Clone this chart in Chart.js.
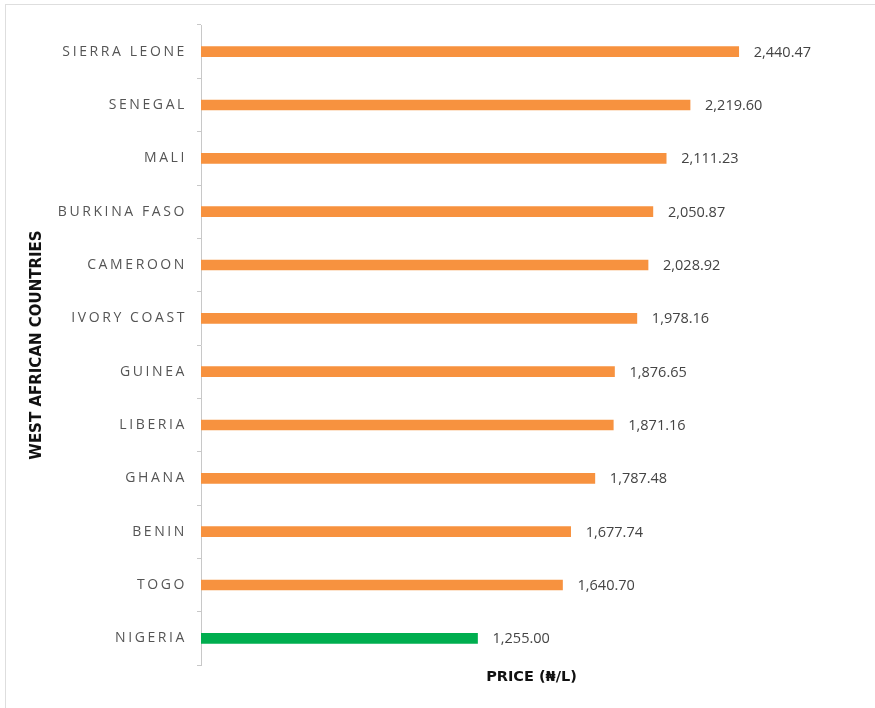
<!DOCTYPE html>
<html>
<head>
<meta charset="utf-8">
<script src="https://cdn.jsdelivr.net/npm/chart.js@4"></script>
<style>
    html, body { margin: 0; padding: 0; background: #fff; }
    #wrap { position: relative; width: 875px; height: 708px; overflow: hidden; }
    #frame { position: absolute; left: 5px; top: 4px; width: 880px; height: 720px; border-top: 1px solid #dedede; border-left: 1px solid #dedede; }
    #priceChart { position: absolute; left: 0; top: 0; }
</style>
</head>
<body>
<div id="wrap">
    <div id="frame"></div>
    <canvas id="priceChart" width="875" height="708"></canvas>
</div>
<script>
const countries = ['SIERRA LEONE', 'SENEGAL', 'MALI', 'BURKINA FASO', 'CAMEROON', 'IVORY COAST', 'GUINEA', 'LIBERIA', 'GHANA', 'BENIN', 'TOGO', 'NIGERIA'];
const prices = [2440.47, 2219.60, 2111.23, 2050.87, 2028.92, 1978.16, 1876.65, 1871.16, 1787.48, 1677.74, 1640.70, 1255.00];
const highlight = 'NIGERIA';

const ORANGE = '#F7923F';
const GREEN = '#00AE4F';

const fmt = v => v.toLocaleString('en-US', { minimumFractionDigits: 2, maximumFractionDigits: 2 });

// country names have wide letter spacing, so we draw them ourselves
const labelPlugin = {
    id: 'labels',
    afterDraw(chart) {
        const ctx = chart.ctx;
        const y = chart.scales.y;
        const meta = chart.getDatasetMeta(0);
        ctx.save();
        ctx.textBaseline = 'middle';
        ctx.letterSpacing = '2.6px';
        ctx.font = '14px "Open Sans", sans-serif';
        ctx.fillStyle = '#555';
        ctx.textAlign = 'right';
        countries.forEach((c, i) => ctx.fillText(c, y.right - 14, y.getPixelForValue(i)));

        ctx.letterSpacing = '0px';
        ctx.font = '14.5px "Open Sans", sans-serif';
        ctx.fillStyle = '#444';
        ctx.textAlign = 'left';
        meta.data.forEach((bar, i) => ctx.fillText(fmt(prices[i]), bar.x + 15, bar.y + 1));
        ctx.restore();
    }
};

new Chart(document.getElementById('priceChart'), {
    type: 'bar',
    data: {
        labels: countries,
        datasets: [{
            data: prices,
            backgroundColor: countries.map(c => c === highlight ? GREEN : ORANGE),
            barThickness: 10
        }]
    },
    options: {
        indexAxis: 'y',
        responsive: false,
        animation: false,
        devicePixelRatio: 1,
        layout: { padding: { top: 25, right: 13, left: 0, bottom: 0 } },
        plugins: { legend: { display: false }, tooltip: { enabled: false } },
        scales: {
            x: {
                min: 0, max: 3000,
                grid: { display: false },
                border: { display: false },
                ticks: { display: false },
                title: {
                    display: true, text: 'PRICE (₦/L)', color: '#111',
                    font: { family: '"DejaVu Sans"', size: 14.5, weight: 'bold' },
                    padding: { top: 0, bottom: 22 }
                },
                afterFit: s => { s.height = 43; }
            },
            y: {
                grid: { drawOnChartArea: false, drawTicks: true, tickLength: 4, color: '#c8c8c8' },
                border: { display: true, color: '#c8c8c8', width: 1 },
                ticks: { display: false },
                title: {
                    display: true, text: 'WEST AFRICAN COUNTRIES', color: '#111',
                    font: { family: '"DejaVu Sans"', size: 15, weight: 'bold' },
                    padding: { top: 28, bottom: 0 }
                },
                afterFit: s => { s.width = 201; }
            }
        }
    },
    plugins: [labelPlugin]
});
</script>
</body>
</html>
